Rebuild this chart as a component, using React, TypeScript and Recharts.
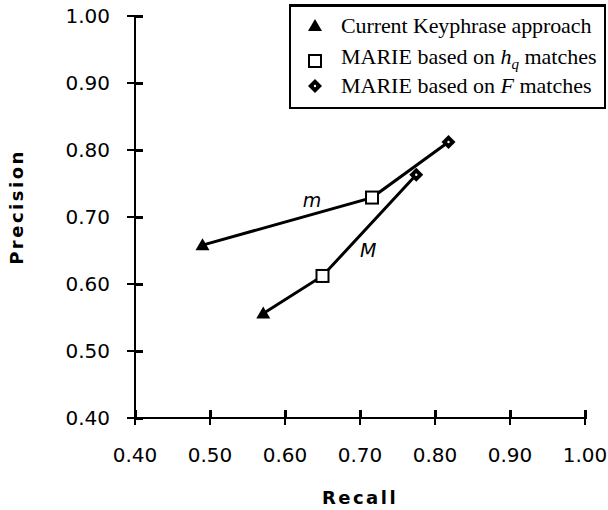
import { LineChart, Line, XAxis, YAxis, ReferenceDot } from 'recharts';

// marker order: current keyphrase, MARIE h_q, MARIE F
const methodShapes = ['triangle', 'square', 'diamond'];

// lower-left line labelled "m"
const mRecall = [0.49, 0.716, 0.818];
const mPrecision = [0.658, 0.729, 0.812];

// steeper line labelled "M"
const bigMRecall = [0.571, 0.65, 0.775];
const bigMPrecision = [0.556, 0.612, 0.763];

const axisTicks = [0.4, 0.5, 0.6, 0.7, 0.8, 0.9, 1.0];

const noteText = ['m', 'M'];
const noteRecall = [0.636, 0.711];
const notePrecision = [0.725, 0.651];

const mData = mRecall.map((x, i) => ({ x, y: mPrecision[i] }));
const bigMData = bigMRecall.map((x, i) => ({ x, y: bigMPrecision[i] }));

const tickFont = '"DejaVu Sans", Verdana, sans-serif';
const serif = '"Liberation Serif", "Times New Roman", serif';

function Marker({ cx, cy, shape }: { cx: number; cy: number; shape: string }) {
  if (shape === 'triangle') {
    return <polygon points={`${cx},${cy - 7} ${cx + 7},${cy + 5} ${cx - 7},${cy + 5}`} fill="#000" />;
  }
  if (shape === 'square') {
    return <rect x={cx - 6} y={cy - 6} width={12} height={12} fill="#fff" stroke="#000" strokeWidth={2} />;
  }
  return (
    <g>
      <polygon points={`${cx},${cy - 7} ${cx + 7},${cy} ${cx},${cy + 7} ${cx - 7},${cy}`} fill="#000" />
      <circle cx={cx} cy={cy} r={1.2} fill="#fff" />
    </g>
  );
}

const renderDot = (props: any) => (
  <Marker key={`dot-${props.index}`} cx={props.cx} cy={props.cy} shape={methodShapes[props.index]} />
);

// outer half of each tick comes from tickLine, the inner half is drawn here
function YTick(props: any) {
  const { x, y, payload } = props;
  return (
    <g>
      <rect x={x + 7} y={y - 1} width={9} height={3} fill="#000" />
      <text x={x - 17} y={y} textAnchor="end" dominantBaseline="central" fontFamily={tickFont} fontSize={20} fill="#000">
        {Number(payload.value).toFixed(2)}
      </text>
    </g>
  );
}

function XTick(props: any) {
  const { x, y, payload } = props;
  return (
    <g>
      <rect x={x - 1} y={y - 15} width={3} height={9} fill="#000" />
      <text x={x} y={y + 30} textAnchor="middle" dominantBaseline="central" fontFamily={tickFont} fontSize={20} fill="#000">
        {Number(payload.value).toFixed(2)}
      </text>
    </g>
  );
}

function LegendIcon({ shape }: { shape: string }) {
  return (
    <svg width={16} height={16} style={{ display: 'block' }}>
      <Marker cx={8} cy={8} shape={shape} />
    </svg>
  );
}

const legendLabels = [
  <span key="a" style={{ letterSpacing: -0.1 }}>Current Keyphrase approach</span>,
  <span key="b">
    MARIE based on <i>h</i>
    <sub style={{ fontStyle: 'italic', fontSize: 15 }}>q</sub> matches
  </span>,
  <span key="c">
    MARIE based on <i>F</i> matches
  </span>,
];
const legendRowTop = [7, 38, 67];

export default function App() {
  return (
    <div style={{ position: 'absolute', left: 0, top: 0, width: 608, height: 510, background: '#fff' }}>
      <LineChart width={608} height={510} margin={{ top: 16, right: 23, bottom: 0, left: 0 }}>
        <XAxis
          type="number"
          dataKey="x"
          domain={[0.4, 1]}
          ticks={axisTicks}
          allowDataOverflow
          height={92}
          tickSize={7}
          tickMargin={0}
          tickLine={{ stroke: '#000', strokeWidth: 2 }}
          axisLine={{ stroke: '#000', strokeWidth: 2 }}
          tick={XTick}
          label={{
            value: 'Recall',
            position: 'insideBottom',
            offset: 6,
            fill: '#000',
            fontFamily: tickFont,
            fontWeight: 'bold',
            fontSize: 18,
            letterSpacing: 2.5,
          }}
        />
        <YAxis
          type="number"
          dataKey="y"
          domain={[0.4, 1]}
          ticks={axisTicks}
          allowDataOverflow
          width={135}
          tickSize={8}
          tickMargin={0}
          tickLine={{ stroke: '#000', strokeWidth: 2 }}
          axisLine={{ stroke: '#000', strokeWidth: 2 }}
          tick={YTick}
          label={{
            value: 'Precision',
            angle: -90,
            position: 'insideLeft',
            offset: 0,
            dx: 17,
            dy: -10,
            fill: '#000',
            fontFamily: tickFont,
            fontWeight: 'bold',
            fontSize: 18,
            letterSpacing: 2.5,
            textAnchor: 'middle',
          }}
        />
        <Line
          data={mData}
          dataKey="y"
          stroke="#000"
          strokeWidth={3}
          dot={renderDot}
          activeDot={false}
          isAnimationActive={false}
        />
        <Line
          data={bigMData}
          dataKey="y"
          stroke="#000"
          strokeWidth={3}
          dot={renderDot}
          activeDot={false}
          isAnimationActive={false}
        />
        {noteText.map((t, i) => (
          <ReferenceDot
            key={t}
            x={noteRecall[i]}
            y={notePrecision[i]}
            r={0}
            fill="none"
            stroke="none"
            label={{ value: t, position: 'center', fill: '#000', fontFamily: tickFont, fontStyle: 'italic', fontSize: 19 }}
          />
        ))}
      </LineChart>
      <div
        style={{
          position: 'absolute',
          left: 289,
          top: 4,
          width: 317,
          height: 105,
          boxSizing: 'border-box',
          border: '2px solid #000',
          borderTopWidth: 3,
          background: '#fff',
          fontFamily: serif,
          fontSize: 22,
          color: '#000',
        }}
      >
        {methodShapes.map((s, i) => (
          <div
            key={s}
            style={{ position: 'absolute', left: 16, top: legendRowTop[i], display: 'flex', alignItems: 'center', whiteSpace: 'nowrap', lineHeight: '24px' }}
          >
            <LegendIcon shape={s} />
            <div style={{ marginLeft: 18 }}>{legendLabels[i]}</div>
          </div>
        ))}
      </div>
    </div>
  );
}
